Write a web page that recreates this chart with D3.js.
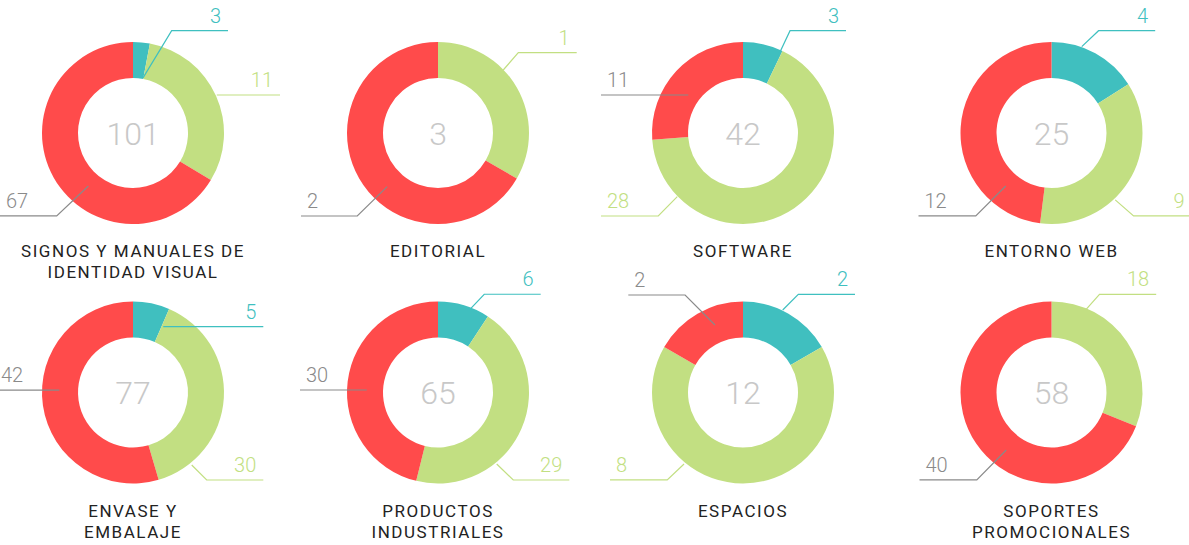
<!DOCTYPE html>
<html><head><meta charset="utf-8">
<script src="https://cdn.jsdelivr.net/npm/d3@7"></script>
<style>
body{margin:0;background:#fff;}
svg{display:block;font-family:Roboto,'Noto Sans',sans-serif;}
</style>
</head><body>
<svg id="chart" width="1189" height="545"></svg>
<script>
// ---- data ----
const categories = [
  "SIGNOS Y MANUALES DE\nIDENTIDAD VISUAL", "EDITORIAL", "SOFTWARE", "ENTORNO WEB",
  "ENVASE Y\nEMBALAJE", "PRODUCTOS\nINDUSTRIALES", "ESPACIOS", "SOPORTES\nPROMOCIONALES"
];
const seriesNames = ["teal", "green", "red"];
const tealValues  = [3, 0, 3, 4, 5, 6, 2, 0];
const greenValues = [31, 1, 28, 9, 30, 29, 8, 18];
const redValues   = [67, 2, 11, 12, 42, 30, 2, 40];
const tealLabels  = ["3", "", "3", "4", "5", "6", "2", ""];
const greenLabels = ["11", "1", "28", "9", "30", "29", "8", "18"];
const redLabels   = ["67", "2", "11", "12", "42", "30", "2", "40"];

// ---- layout / style ----
const colors = {teal: "#40bfbf", green: "#c2df82", red: "#ff4b4b"};
const labelColors = {teal: "#3fc0c0", green: "#c2df82", red: "#8a8a8a"};
const colX = [133, 438, 743, 1051.5];
const rowY = [133, 392.5];
const outerR = 91, innerR = 55;
// leader: [anchorAngleDeg, anchorRadius, elbowAngleDeg|null, elbowRadius|null, lineEndOffsetX]
const leaderLayout = [
  {teal: [10.3, 56, 20.7, 109.4, 95], green: [65.6, 92, null, null, 147], red: [220.1, 69.3, 222.6, 112.7, -133]},
  {green: [46, 90.7, 45, 113.6, 138.7], red: [223.4, 73.9, 224.2, 115.8, -137]},
  {teal: [24.1, 56.2, 24.7, 112.6, 103], red: [304.8, 66.6, null, null, -142], green: [225.9, 91.5, 225.6, 118.6, -142]},
  {teal: [19.3, 91.5, 24.7, 112.6, 103.7], green: [136.4, 92.4, 135.3, 116.7, 140], red: [220.8, 70, 222.4, 112.3, -133]},
  {teal: [24.7, 72.4, null, null, 130.3], red: [271.9, 73.7, null, null, -143], green: [141, 93.3, 139.9, 114.4, 130.3]},
  {teal: [21, 89.1, 25.2, 108.6, 102.7], red: [272, 71.3, null, null, -138], green: [140.6, 92.5, 139.3, 115.4, 131.3]},
  {red: [337.5, 73.1, 329.3, 113.4, -114.7], teal: [25.7, 91.6, 29.4, 112.7, 112], green: [219.5, 92.7, 220.9, 115.7, -133]},
  {green: [22.6, 90.1, 26.05, 109.3, 104.7], red: [218.2, 73.2, 220.5, 115, -132]}
];

const svg = d3.select("#chart");
const pie = d3.pie().sort(null).value(d => d.v);
const arc = d3.arc().innerRadius(innerR).outerRadius(outerR);
const rad = a => a * Math.PI / 180;

categories.forEach((cat, i) => {
  const cx = colX[i % 4], cy = rowY[Math.floor(i / 4)];
  const values = {teal: tealValues[i], green: greenValues[i], red: redValues[i]};
  const labels = {teal: tealLabels[i], green: greenLabels[i], red: redLabels[i]};
  const data = seriesNames.map(s => ({s, v: values[s]}));
  const g = svg.append("g").attr("transform", `translate(${cx},${cy})`);

  g.selectAll("path.slice").data(pie(data).filter(d => d.data.v > 0)).join("path")
    .attr("class", "slice")
    .attr("d", arc)
    .attr("fill", d => colors[d.data.s]);

  const total = d3.sum(data, d => d.v);
  g.append("text").attr("text-anchor", "middle").attr("y", 11.5)
    .attr("font-size", 32).attr("font-weight", 300).attr("fill", "#c8c8c8")
    .text(total);

  const lay = leaderLayout[i];
  seriesNames.forEach(s => {
    const L = lay[s];
    if (!L || values[s] <= 0) return;
    const p0 = d3.pointRadial(rad(L[0]), L[1]);
    const p1 = L[2] === null ? p0 : d3.pointRadial(rad(L[2]), L[3]);
    const p2 = [L[4], p1[1]];
    g.append("path")
      .attr("d", d3.line()([p0, p1, p2]))
      .attr("fill", "none").attr("stroke", labelColors[s]).attr("stroke-width", 1.2);
    const right = L[4] > 0;
    const tx = right ? L[4] - 7 : Math.max(L[4] + 6, 1 - cx);
    g.append("text")
      .attr("x", tx)
      .attr("y", p1[1] - 8)
      .attr("text-anchor", right ? "end" : "start")
      .attr("font-size", 20).attr("font-weight", 300)
      .attr("fill", labelColors[s])
      .text(labels[s]);
  });

  const t = g.append("text").attr("text-anchor", "middle")
    .attr("font-size", 17).attr("letter-spacing", 1.55).attr("fill", "#222");
  cat.split("\n").forEach((line, k) => {
    t.append("tspan").attr("x", 0).attr("y", 124 + k * 21).text(line);
  });
});
</script>
</body></html>
